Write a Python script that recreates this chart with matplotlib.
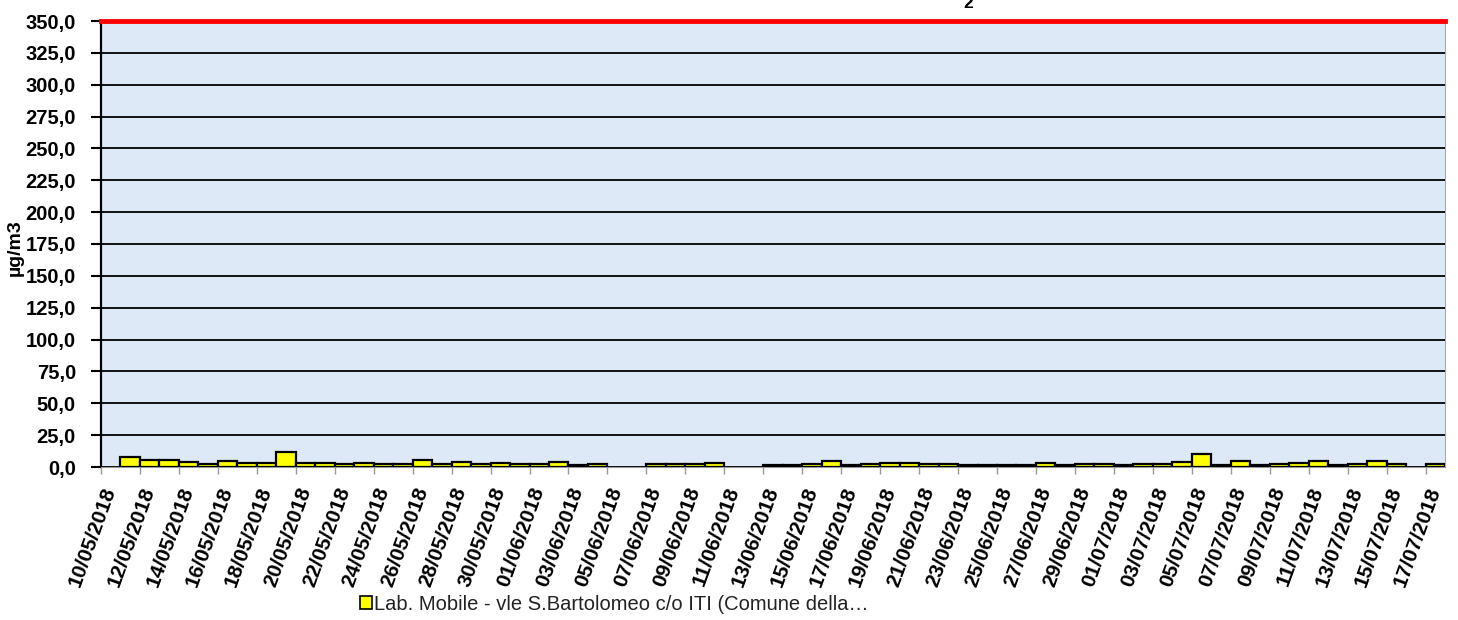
import numpy as np
import pandas as pd
import matplotlib
matplotlib.use("Agg")
import matplotlib.pyplot as plt
from matplotlib.patches import Patch

# daily SO2 means, lab. mobile vle S.Bartolomeo (nan = no data)
days = pd.date_range("2018-05-10", "2018-07-17", freq="D")
nan = np.nan
so2 = [
    nan, 8.1, 5.5, 5.5, 3.9, 2.6, 4.4, 2.9, 2.9, 11.8,
    3.4, 2.9, 2.4, 3.1, 2.4, 2.4, 5.5, 2.6, 3.7, 2.6,
    3.1, 2.1, 2.4, 3.7, 1.8, 2.4, nan, nan, 2.6, 2.1,
    2.1, 3.4, nan, nan, 1.8, 1.3, 2.6, 4.7, 1.6, 2.1,
    2.9, 3.1, 2.1, 2.1, 1.8, 1.3, 1.8, 1.8, 3.4, 1.8,
    2.4, 2.6, 1.6, 2.1, 2.4, 3.7, 9.9, 1.8, 4.4, 1.8,
    2.4, 2.9, 5.0, 1.8, 2.1, 4.4, 2.4, nan, 2.6,
]
limit = 350.0
yticks = np.arange(0, 351, 25)
series_name = "Lab. Mobile - vle S.Bartolomeo c/o ITI (Comune della\u2026"

plt.rcParams["font.family"] = ["Liberation Sans", "DejaVu Sans"]

fig = plt.figure(figsize=(14.58, 6.2), dpi=100)
ax = fig.add_axes([101 / 1458, 1 - 467 / 620, 1344 / 1458, 446 / 620])
ax.set_facecolor("#dde9f7")

x = np.arange(len(days))
ax.bar(x, so2, width=1.0, color="#ffff00", edgecolor="black", linewidth=1.6, zorder=3)

ax.set_xlim(-0.5, len(days) - 0.5)
ax.set_ylim(0, limit)

# horizontal grid + red limit line at the top
ax.set_yticks(yticks)
ax.set_yticklabels([f"{v:.1f}".replace(".", ",") for v in yticks],
                   fontsize=14.5, fontweight="bold")
ax.yaxis.grid(True, color="black", linewidth=1.3, zorder=1)
ax.axhline(limit, color="red", linewidth=3.5, zorder=4, clip_on=False)
ax.tick_params(axis="y", length=7, width=1.5, color="black", pad=11)

# ticks between categories every two days, labels on the category
ax.set_xticks(np.arange(-0.5, len(days) - 1, 2))
ax.set_xticklabels([])
ax.tick_params(axis="x", which="major", length=5, width=1, color="#999999")
ax.set_xticks(x[::2], minor=True)
ax.set_xticklabels([d.strftime("%d/%m/%Y") for d in days[::2]], minor=True,
                   rotation=70, ha="right", va="center", rotation_mode="anchor",
                   fontsize=15, fontweight="bold")
ax.tick_params(axis="x", which="minor", length=0, pad=15)

ax.spines["top"].set_visible(False)
ax.spines["left"].set_linewidth(1.6)
ax.spines["bottom"].set_color("#999999")
ax.spines["right"].set_color("#aaaaaa")
ax.set_axisbelow(False)

fig.text(15 / 1458, 1 - 248 / 620, "\u00b5g/m3", rotation=90, ha="center", va="center",
         fontsize=14, fontweight="bold")

# title sits above the figure edge, only the subscript shows
fig.text(963 / 1458, 1 + 1 / 620, "SO", ha="right", va="baseline",
         fontsize=18, fontweight="bold")
fig.text(963 / 1458, 1 - 8 / 620, "2", ha="left", va="baseline",
         fontsize=12.5, fontweight="bold")

fig.legend(handles=[Patch(facecolor="#ffff00", edgecolor="black", linewidth=1.2)],
           labels=[series_name], loc="center left",
           bbox_to_anchor=(342 / 1458, 1 - 604 / 620), frameon=False,
           fontsize=14.5, handlelength=0.6, handleheight=0.6, handletextpad=0.1,
           labelcolor="#222222")

fig.savefig("out.png", dpi=100)
